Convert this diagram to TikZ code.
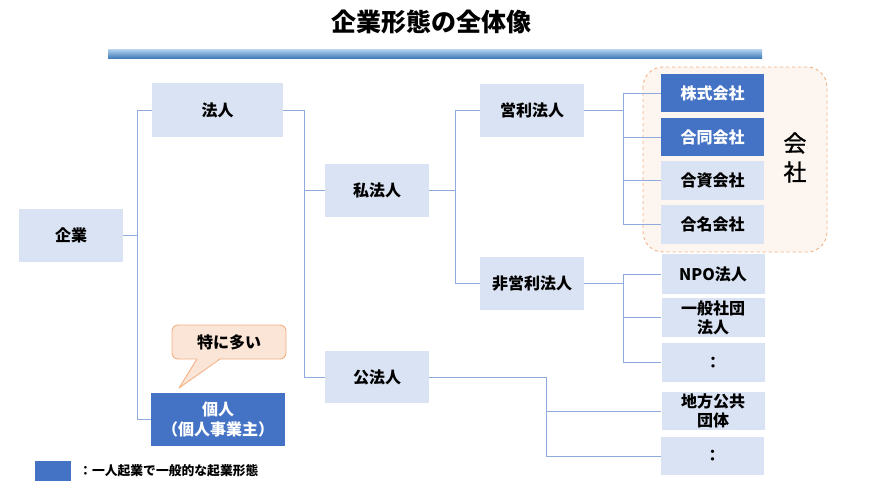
\documentclass[tikz,border=0pt]{standalone}
\usepackage{fontspec}
\setmainfont{Noto Sans CJK JP}
\definecolor{boxfill}{HTML}{DAE3F3}
\definecolor{darkfill}{HTML}{4472C4}
\definecolor{linec}{HTML}{8FAADC}
\definecolor{orangeb}{HTML}{F4B183}
\definecolor{peach}{HTML}{FBE5D6}
\definecolor{peachl}{HTML}{FDF6F0}
\definecolor{bartop}{HTML}{A9CBEA}
\definecolor{barbot}{HTML}{3573B5}
\begin{document}
\begin{tikzpicture}[x=1pt,y=-1pt,
  lbox/.style={fill=boxfill, inner sep=0pt, font=\fontsize{16}{19}\selectfont\bfseries, align=center, text=black},
  dbox/.style={lbox, fill=darkfill, text=white},
  rbox/.style={lbox, minimum width=103pt},
  conn/.style={draw=linec, line width=0.9pt}]
\fill[white] (0,0) rectangle (874,492);
\useasboundingbox (0,0) rectangle (874,492);

% title
\node[font=\fontsize{25}{29}\selectfont\bfseries] (title) at (431,22) {企業形態の全体像};
\shade[top color=bartop, bottom color=barbot] (108,50) rectangle (762,59);

% company group frame
\draw[orangeb, dashed, line width=0.9pt, fill=peachl, rounded corners=20pt] (643,67) rectangle (827,252);
\node[font=\fontsize{23}{29}\selectfont\addfontfeature{FakeBold=1.2}, align=center] (kaisha) at (795,157.5) {会\\社};

% boxes
\node[lbox, minimum width=104pt, minimum height=53pt] (kigyo) at (71,235.5) {企業};
\node[lbox, minimum width=131pt, minimum height=54pt] (hojin) at (217.5,110) {法人};
\node[dbox, minimum width=134pt, minimum height=53pt, font=\fontsize{16}{20}\selectfont\bfseries] (kojin) at (218,419.5) {個人\\（個人事業主）};
\node[lbox, minimum width=104pt, minimum height=53pt] (shiho) at (377,190.5) {私法人};
\node[lbox, minimum width=104pt, minimum height=52pt] (koho) at (377,377) {公法人};
\node[lbox, minimum width=104pt, minimum height=53pt] (eiri) at (532,110.5) {営利法人};
\node[lbox, minimum width=104pt, minimum height=53pt] (hieiri) at (532,283.5) {非営利法人};

\node[rbox, dbox, minimum height=38pt] (kabu) at (712.5,93) {株式会社};
\node[rbox, dbox, minimum height=38pt] (godo) at (712.5,137) {合同会社};
\node[rbox, minimum height=39pt] (goshi) at (712.5,180.5) {合資会社};
\node[rbox, minimum height=39pt] (gomei) at (712.5,224.5) {合名会社};

\node[rbox, minimum height=40pt] (npo) at (713,274) {NPO法人};
\node[rbox, minimum height=39pt] (ippan) at (713,317.5) {一般社団\\法人};
\node[rbox, minimum height=39pt] (dotsa) at (713,362.5) {：};
\node[rbox, minimum height=38pt] (chiho) at (713,411) {地方公共\\団体};
\node[rbox, minimum height=38pt] (dotsb) at (712.5,456) {：};

% connectors
\draw[conn] (kigyo.east) -- ++(14,0) |- (hojin.west);
\draw[conn] (kigyo.east) -- ++(14,0) |- (kojin.west);
\draw[conn] (hojin.east) -- ++(21,0) |- (shiho.west);
\draw[conn] (hojin.east) -- ++(21,0) |- (koho.west);
\draw[conn] (shiho.east) -- ++(26,0) |- (eiri.west);
\draw[conn] (shiho.east) -- ++(26,0) |- (hieiri.west);
\foreach \t in {kabu,godo,goshi,gomei}
  \draw[conn] (eiri.east) -- ++(39,0) |- (\t.west);
\foreach \t in {npo,ippan,dotsa}
  \draw[conn] (hieiri.east) -- ++(39,0) |- (\t.west);
\foreach \t in {chiho,dotsb}
  \draw[conn] (koho.east) -- ++(117,0) |- (\t.west);

% callout
\node[draw=orangeb, fill=peach, line width=0.9pt, rounded corners=6pt, minimum width=114pt, minimum height=34pt, inner sep=0pt,
      font=\fontsize{16}{19}\selectfont\bfseries] (callout) at (229,342) {特に多い};
\coordinate (tip) at (179,388);
\fill[peach] (197,358) -- (tip) -- (220,358) -- cycle;
\draw[orangeb, line width=0.9pt, line join=round] (197,359) -- (tip) -- (220,359);

% legend
\fill[darkfill] (35,461) rectangle (71,481);
\node[anchor=west, inner sep=0pt, font=\fontsize{12.8}{15}\selectfont\bfseries] (legend) at (79,471) {：一人起業で一般的な起業形態};
\end{tikzpicture}
\end{document}
